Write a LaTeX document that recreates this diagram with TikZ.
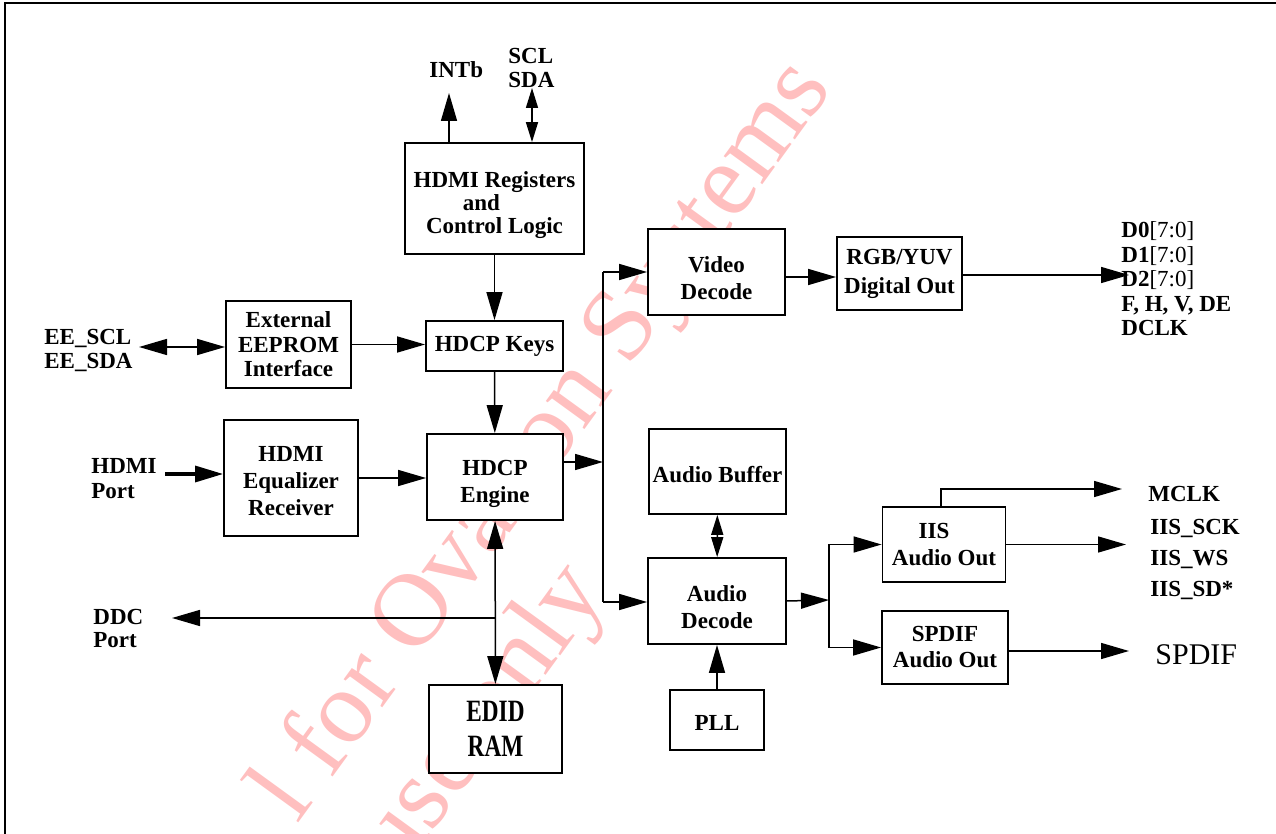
\documentclass[tikz,border=0pt]{standalone}
\usepackage{fontspec}
\setmainfont{Liberation Serif}
\newfontfamily\wmfont{Liberation Serif}
\newfontfamily\narrowfont{Liberation Serif}[FakeStretch=0.75]
\usetikzlibrary{arrows.meta,positioning,calc}
% strut that pushes a block's text down a little
\newcommand{\dstrut}[1]{\rule{0pt}{#1}}

\begin{document}
\begin{tikzpicture}[
    x=0.5pt, y=-0.5pt,
    blk/.style={draw, line width=0.9pt, fill=white, rectangle, align=center, inner sep=0pt, font=\bfseries\fontsize{11.5}{13.5}\selectfont},
    lbl/.style={align=left, inner sep=0pt, font=\bfseries\fontsize{11.5}{12}\selectfont},
    arr/.style={line width=0.75pt, -{Triangle[length=14pt,width=8pt]}},
    dblarr/.style={line width=0.75pt, {Triangle[length=14pt,width=8pt]}-{Triangle[length=14pt,width=8pt]}},
    smallarr/.style={line width=0.75pt, {Triangle[length=10pt,width=6pt]}-{Triangle[length=10pt,width=6pt]}},
    wm/.style={text=red!25, inner sep=0pt, font=\wmfont\fontsize{52}{52}\selectfont, rotate=54}
]
    \useasboundingbox (0,0) rectangle (1276,834);
    % watermark
    \node[wm, anchor=base east] (wmA) at (833,88) {l for Ovation Systems};
    \node[wm, anchor=base east] (wmB) at (607,592) {use only};
    % frame
    \draw[line width=1.2pt] (5,834) -- (5,3) -- (1276,3);

    % blocks
    \node[blk, minimum width=89.5pt, minimum height=55.5pt] (reg) at (494.5,198.5) {\dstrut{14.9pt}HDMI Registers\\[-2pt]and\kern13pt\\[-2pt]Control Logic};
    \node[blk, minimum width=68.5pt, minimum height=25pt] (keys) at (494.5,346) {HDCP Keys};
    \node[blk, minimum width=62.5pt, minimum height=43.5pt] (eeprom) at (288.5,344.5) {External\\[-1.25pt]EEPROM\\[-1.25pt]Interface};
    \node[blk, minimum width=68pt, minimum height=43pt] (eng) at (495,477) {\dstrut{14.5pt}HDCP\\Engine};
    \node[blk, minimum width=67pt, minimum height=58pt] (eq) at (291,478) {\dstrut{10.6pt}HDMI\\Equalizer\\Receiver};
    \node[blk, minimum width=66.5pt, minimum height=44pt, font=\narrowfont\bfseries\fontsize{15.5}{17.5}\selectfont] (edid) at (495.5,729) {EDID\\RAM};
    \node[blk, minimum width=68.5pt, minimum height=43pt] (vid) at (716.5,272) {\dstrut{13.7pt}Video\\Decode};
    \node[blk, minimum width=62.5pt, minimum height=36.5pt, font=\bfseries\fontsize{11.5}{14.5}\selectfont] (rgb) at (899.5,273.5) {RGB/YUV\\Digital Out};
    \node[blk, minimum width=68.5pt, minimum height=42.5pt] (abuf) at (717.5,471.5) {\dstrut{10.8pt}Audio Buffer};
    \node[blk, minimum width=69pt, minimum height=43pt] (adec) at (717,601) {\dstrut{13.7pt}Audio\\Decode};
    \node[blk, minimum width=47pt, minimum height=30pt] (pll) at (717,720) {\dstrut{10.6pt}PLL};
    \node[blk, minimum width=61.5pt, minimum height=37.5pt] (iis) at (944,544.5) {IIS\kern10pt\\Audio Out};
    \node[blk, minimum width=63pt, minimum height=36.5pt, font=\bfseries\fontsize{11.5}{13}\selectfont] (spdif) at (945,647.5) {SPDIF\\Audio Out};

    % labels
    \node[lbl, anchor=west] (intb) at (429,70) {INTb};
    \node[lbl, anchor=west] (scl) at (508,68) {SCL\\SDA};
    \node[lbl, anchor=west] (eelbl) at (44,350) {EE\_SCL\\EE\_SDA};
    \node[lbl, anchor=west, font=\bfseries\fontsize{11.5}{12.5}\selectfont] (hdmilbl) at (91,479) {HDMI\\Port};
    \node[lbl, anchor=west, font=\bfseries\fontsize{11.5}{11.5}\selectfont] (ddclbl) at (93,628) {DDC\\Port};
    \node[lbl, anchor=west, font=\bfseries\fontsize{11.5}{12.25}\selectfont] (vidlbl) at (1121,279) {D0\textmd{[7:0]}\\D1\textmd{[7:0]}\\D2\textmd{[7:0]}\\F, H, V, DE\\DCLK};
    \node[lbl, anchor=west] (mclk) at (1148,494) {MCLK};
    \node[lbl, anchor=west, font=\bfseries\fontsize{11.5}{15.5}\selectfont] (iislbl) at (1150,559) {IIS\_SCK\\IIS\_WS\\IIS\_SD*};
    \node[anchor=west, inner sep=0pt, font=\fontsize{15}{15}\selectfont] (spdiflbl) at (1155,655) {SPDIF};

    % free ends
    \coordinate (intbtip) at (449,93);
    \coordinate (scltip) at (532,88);
    \coordinate (eetip) at (139,347);
    \coordinate (hdmiin) at (165,474);
    \coordinate (ddctip) at (172,618);
    \coordinate (bustop) at (603,272);
    \coordinate (busbot) at (603,602);
    \coordinate (split) at (829,600);
    \coordinate (rgbtip) at (1129,275);
    \coordinate (mclktip) at (1122,489);
    \coordinate (iistip) at (1126,544);
    \coordinate (spdiftip) at (1129,651);

    % connectors
    \draw[arr] (intbtip |- reg.north) -- (intbtip);
    \draw[smallarr] (scltip |- reg.north) -- (scltip);
    \draw[arr] (reg) -- (keys);
    \draw[dblarr] (eetip) -- (eetip -| eeprom.west);
    \draw[arr] (eeprom.east) -- (eeprom.east -| keys.west);
    \draw[arr] (keys) -- (eng);
    \draw[arr, line width=1.6pt] (hdmiin) -- (hdmiin -| eq.west);
    \draw[arr] (eq.east) -- (eq.east -| eng.west);
    \draw[dblarr] (eng) -- (edid);
    \draw[arr] (eng.south |- ddctip) -- (ddctip);
    \draw[arr] ([yshift=7.5pt]eng.east) -- ([yshift=7.5pt]eng.east -| bustop);
    \draw[line width=0.75pt] (bustop) -- (busbot);
    \draw[arr] (bustop) -- (bustop -| vid.west);
    \draw[arr] (busbot) -- (busbot -| adec.west);
    \draw[arr] ([yshift=-2.5pt]vid.east) -- ([yshift=-2.5pt]vid.east -| rgb.west);
    \draw[arr] (rgb.east |- rgbtip) -- (rgbtip);
    \draw[smallarr] (abuf) -- (adec);
    \draw[arr] (pll) -- (adec);
    \draw[arr] (adec.east) -- (split);
    \draw[line width=0.75pt] (split |- iis.west) -- (split |- spdif.west);
    \draw[arr] (split |- iis.west) -- (iis.west);
    \draw[arr] (split |- spdif.west) -- (spdif.west);
    \draw[arr] ([xshift=-1.5pt]iis.north) |- (mclktip);
    \draw[arr] (iis.east) -- (iis.east -| iistip);
    \draw[arr] (spdif.east |- spdiftip) -- (spdiftip);
\end{tikzpicture}
\end{document}
